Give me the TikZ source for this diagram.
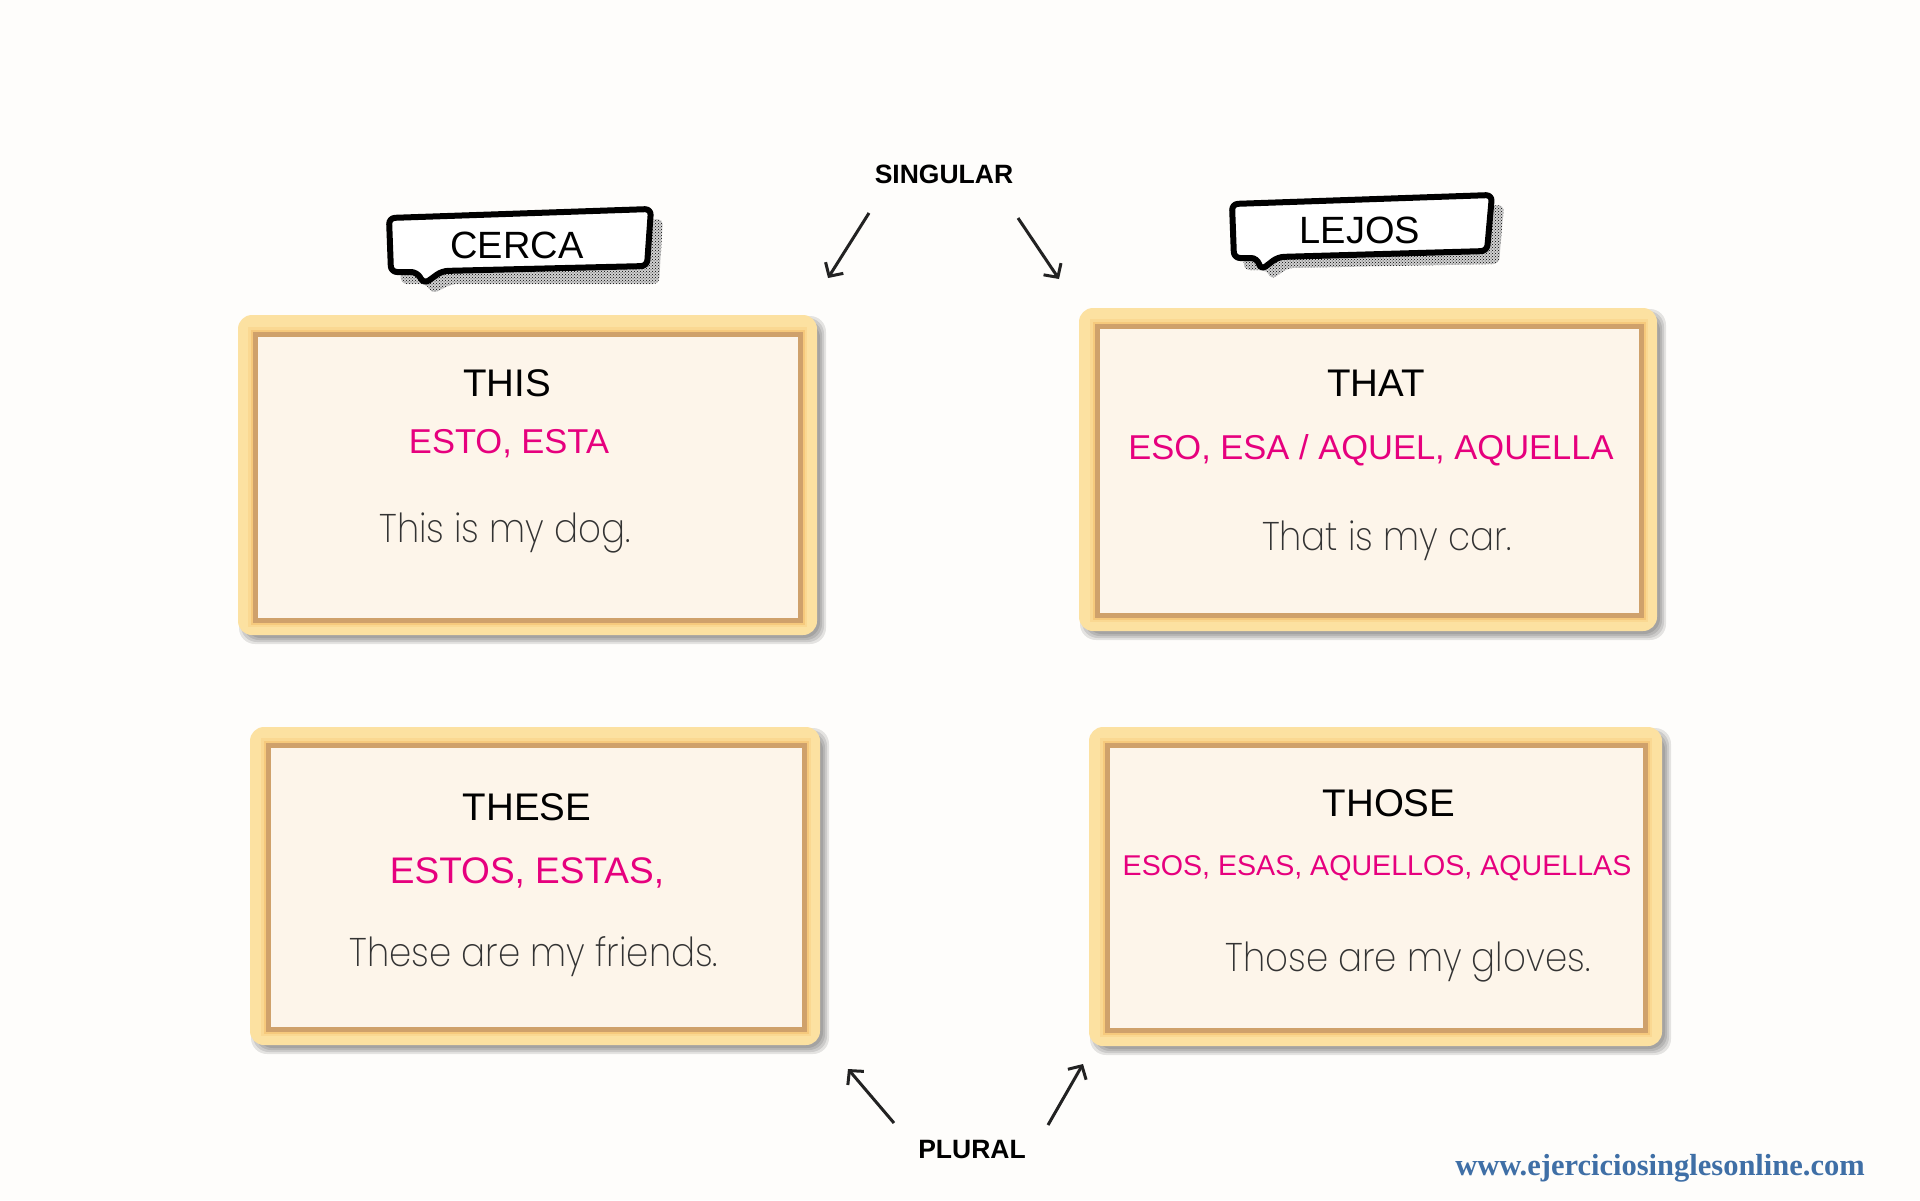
\documentclass[tikz,border=0pt]{standalone}
\usepackage{fontspec}
\setmainfont{Liberation Sans}
\newfontfamily\footfont{Liberation Serif}
\IfFontExistsTF{Poppins ExtraLight}{\newfontfamily\thinfont{Poppins ExtraLight}}{%
 \IfFontExistsTF{Poppins Light}{\newfontfamily\thinfont{Poppins Light}}{%
  \IfFontExistsTF{Lato Light}{\newfontfamily\thinfont{Lato Light}}{\newfontfamily\thinfont{Poppins}}}}
\usetikzlibrary{arrows.meta,patterns}
\definecolor{bgc}{HTML}{FEFDFB}
\definecolor{pinkc}{HTML}{E6007E}
\definecolor{frameyel}{HTML}{FCE1A1}
\definecolor{bandA}{HTML}{FAD892}
\definecolor{bandB}{HTML}{F6C97C}
\definecolor{brownc}{HTML}{CFA16B}
\definecolor{creamc}{HTML}{FDF5EA}
\definecolor{thinc}{HTML}{333333}
\definecolor{arrc}{HTML}{222222}
\definecolor{footc}{HTML}{3F6FA6}
\newcommand\mycard[8]{%
  \foreach \e in {-2,0,2,4}{\fill[black,opacity=0.10,rounded corners=16pt] (#1+5-\e,#2+5-\e) rectangle (#3+5+\e,#4+5+\e);}
  \fill[frameyel,rounded corners=14pt] (#1,#2) rectangle (#3,#4);
  \draw[bandA,line width=14pt] (#5,#6) rectangle (#7,#8);
  \draw[bandB,line width=9pt] (#5,#6) rectangle (#7,#8);
  \draw[brownc,line width=5pt,fill=creamc] (#5,#6) rectangle (#7,#8);
}
\newcommand\thinline[1]{\scalebox{0.89}[1]{#1}}
\begin{document}
\begin{tikzpicture}[x=1pt,y=-1pt,
  title/.style={anchor=base,inner sep=0pt,font=\fontsize{38.5}{44}\selectfont,text=black},
  pinktxt/.style={anchor=base,inner sep=0pt,text=pinkc},
  thintxt/.style={anchor=base,inner sep=0pt,text=thinc,font=\thinfont\fontsize{40}{46}\selectfont},
  labeltxt/.style={anchor=base,inner sep=0pt,font=\bfseries\fontsize{26.5}{30}\selectfont,text=black},
  bubble/.style={draw=black,fill=white,line width=6pt,line join=round,rounded corners=6pt},
  bubshadow/.style={pattern=crosshatch dots,pattern color=black},
  bubtxt/.style={anchor=base,inner sep=0pt,font=\fontsize{38}{44}\selectfont,text=black},
  arr/.style={draw=arrc,line width=3pt,-{Straight Barb[length=10pt,width=21pt]}}]
\fill[bgc] (0,0) rectangle (1920,1200);
\useasboundingbox (0,0) rectangle (1920,1200);

% cards
\mycard{238}{315}{817}{635}{255}{334}{800}{620}
\mycard{1079}{308}{1657}{631}{1097}{326}{1641}{615}
\mycard{250}{727}{820}{1045}{268}{745}{804}{1029}
\mycard{1089}{727}{1662}{1046}{1107}{745}{1645}{1030}

% speech bubbles
\fill[black!18,rounded corners=6pt] (399,228) -- (663,219) -- (659,284) -- (452,284) -- (432,294) -- (427,284) -- (401,284) -- cycle;
\fill[bubshadow,rounded corners=6pt] (399,228) -- (663,219) -- (659,284) -- (452,284) -- (432,294) -- (427,284) -- (401,284) -- cycle;
\path[bubble] (389,218) -- (651,209) -- (647,266) -- (442,271) -- (424,284) -- (417,272) -- (391,272) -- cycle;
\node[bubtxt] (cerca) at (517,258) {CERCA};

\fill[black!18,rounded corners=6pt] (1242,214) -- (1504,205) -- (1499,264) -- (1288,268) -- (1271,280) -- (1267,270) -- (1244,270) -- cycle;
\fill[bubshadow,rounded corners=6pt] (1242,214) -- (1504,205) -- (1499,264) -- (1288,268) -- (1271,280) -- (1267,270) -- (1244,270) -- cycle;
\path[bubble] (1232,204) -- (1492,195) -- (1487,251) -- (1278,257) -- (1261,270) -- (1257,258) -- (1234,258) -- cycle;
\node[bubtxt] (lejos) at (1360,243) {LEJOS};

% card texts
\node[title] (this) at (507,396) {THIS};
\node[pinktxt,font=\fontsize{34.5}{40}\selectfont] (esto) at (509,453) {ESTO, ESTA};
\node[thintxt] (dog) at (505,542) {\thinline{This is my dog.}};

\node[title] (that) at (1376,396) {THAT};
\node[pinktxt,font=\fontsize{34.5}{40}\selectfont] (eso) at (1371,459) {ESO, ESA / AQUEL, AQUELLA};
\node[thintxt] (car) at (1387,550) {\thinline{That is my car.}};

\node[title] (these) at (527,820) {THESE};
\node[pinktxt,font=\fontsize{37}{42}\selectfont] (estos) at (527,883) {ESTOS, ESTAS,};
\node[thintxt] (friends) at (534,966) {\thinline{These are my friends.}};

\node[title] (those) at (1389,816) {THOSE};
\node[pinktxt,font=\fontsize{28.6}{34}\selectfont] (esos) at (1377,875) {ESOS, ESAS, AQUELLOS, AQUELLAS};
\node[thintxt] (gloves) at (1408,971) {\thinline{Those are my gloves.}};

% labels and arrows
\node[labeltxt] (singular) at (944,183) {SINGULAR};
\node[labeltxt] (plural) at (972,1158) {PLURAL};
\coordinate (sa1) at (869,213); \coordinate (sb1) at (828,278);
\coordinate (sa2) at (1018,218); \coordinate (sb2) at (1059,279);
\coordinate (pa1) at (894,1123); \coordinate (pb1) at (848,1069);
\coordinate (pa2) at (1048,1125); \coordinate (pb2) at (1083,1064);
\draw[arr] (sa1) -- (sb1);
\draw[arr] (sa2) -- (sb2);
\draw[arr] (pa1) -- (pb1);
\draw[arr] (pa2) -- (pb2);

\node[anchor=base,inner sep=0pt,text=footc,font=\footfont\bfseries\fontsize{30.5}{35}\selectfont] (web) at (1660,1175) {www.ejerciciosinglesonline.com};
\end{tikzpicture}
\end{document}
